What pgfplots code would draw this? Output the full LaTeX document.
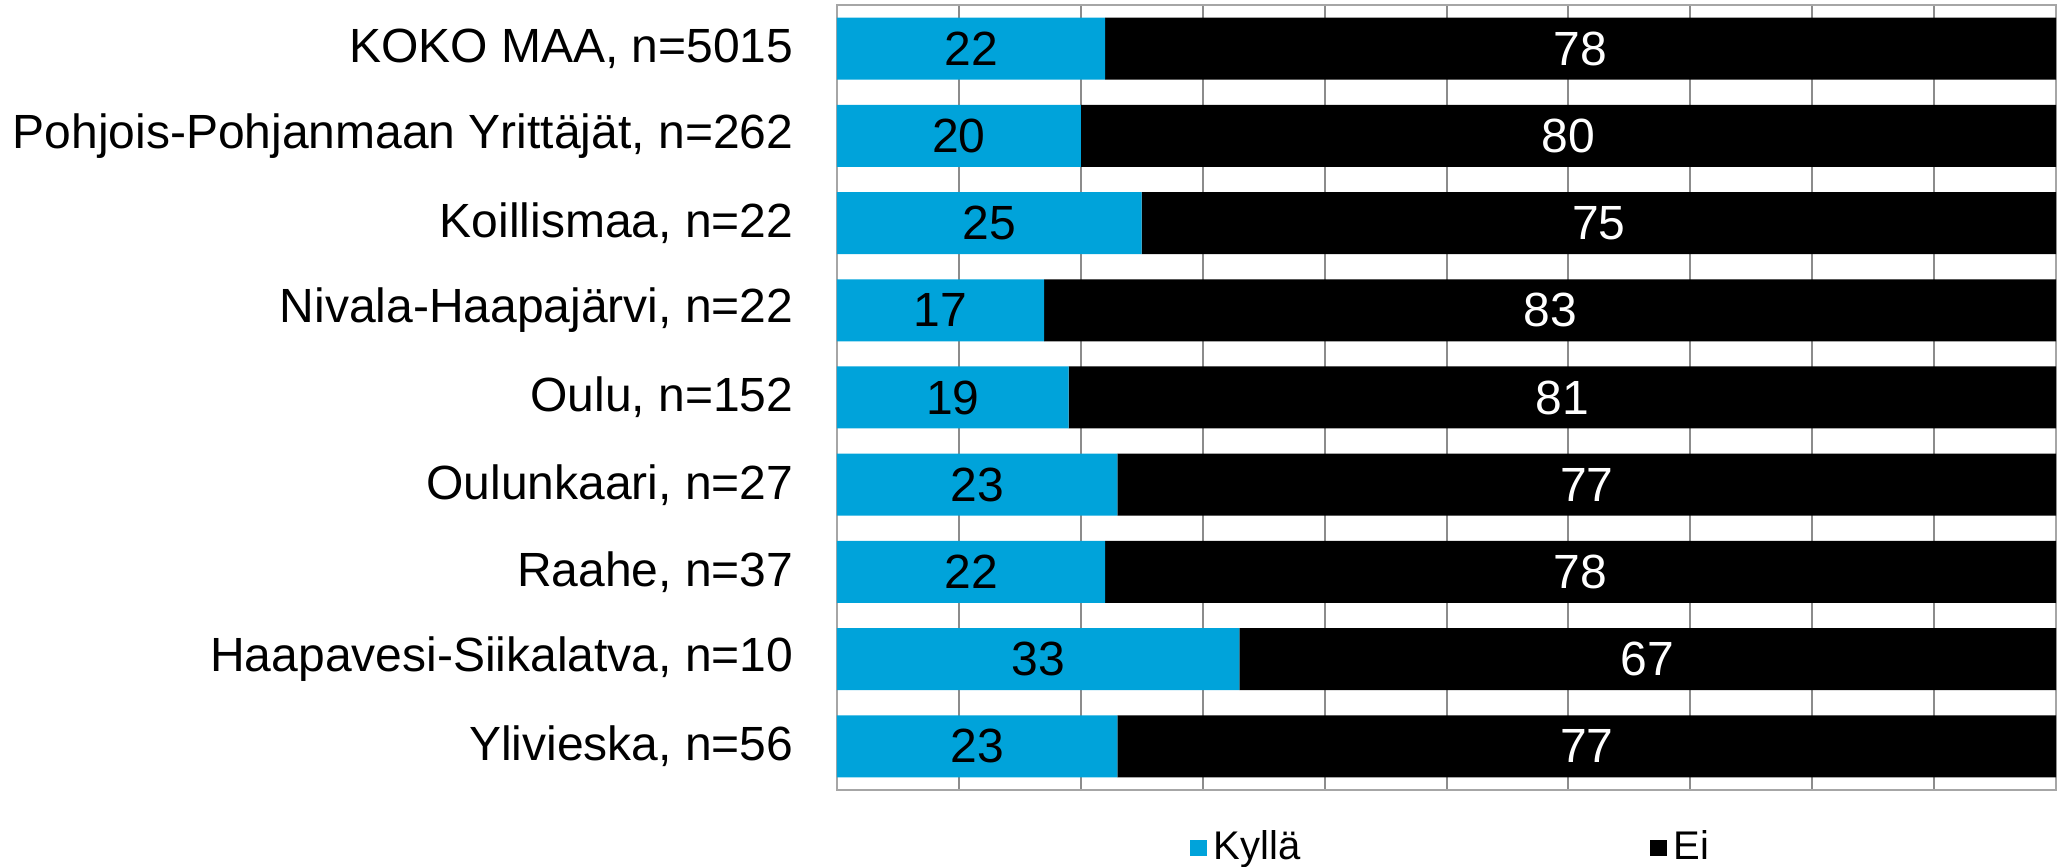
\documentclass[border=0pt]{standalone}
\usepackage{pgfplots}
\pgfplotsset{compat=1.18}
\usepackage{fontspec}
\setmainfont{Liberation Sans}
\definecolor{kblue}{HTML}{00A3DA}
\begin{document}
\begin{tikzpicture}
\begin{axis}[name=ax, scale only axis, width=365.7pt, height=235.5pt,
  xbar stacked, bar width=18.6pt,
  xmin=0, xmax=100, ymin=-0.5, ymax=8.5, y dir=reverse,
  xtick={0,10,...,100}, xticklabels={}, xticklabel style={overlay, inner sep=0pt},
  ytick={0,...,8},
  yticklabels={KOKO MAA{,} n=5015, Pohjois-Pohjanmaan Yrittäjät{,} n=262, Koillismaa{,} n=22, Nivala-Haapajärvi{,} n=22, Oulu{,} n=152, Oulunkaari{,} n=27, Raahe{,} n=37, Haapavesi-Siikalatva{,} n=10, Ylivieska{,} n=56},
  yticklabel style={font=\fontsize{14.4}{17}\selectfont, anchor=east, inner sep=0pt, xshift=-12.9pt},
  major tick length=0pt,
  xmajorgrids, major grid style={color=gray!90, line width=0.6pt},
  axis line style={color=gray!70, line width=0.6pt},
  legend columns=2,
  legend style={at={(0.5,0)}, anchor=center, yshift=-17.4pt, xshift=2pt, draw=none, fill=none, overlay,
    font=\fontsize{12}{14}\selectfont,
    /tikz/every even column/.append style={column sep=103pt}},
]
\addplot[fill=kblue, draw=none, legend image code/.code={\fill[kblue] (0pt,-2.5pt) rectangle (5pt,2.5pt);}] coordinates {(22,0) (20,1) (25,2) (17,3) (19,4) (23,5) (22,6) (33,7) (23,8)};
\addlegendentry{Kyllä}
\addplot[fill=black, draw=none, legend image code/.code={\fill[black] (0pt,-2.5pt) rectangle (5pt,2.5pt);}] coordinates {(78,0) (80,1) (75,2) (83,3) (81,4) (77,5) (78,6) (67,7) (77,8)};
\addlegendentry{Ei}
\end{axis}
\begin{axis}[at={(ax.south west)}, anchor=south west, scale only axis, width=365.7pt, height=235.5pt,
  xmin=0, xmax=100, ymin=-0.5, ymax=8.5, y dir=reverse, hide axis,
  nodes near coords={\pgfplotspointmeta}, point meta=explicit symbolic,
  every node near coord/.append style={anchor=center, inner sep=0pt, font=\fontsize{14.4}{17}\selectfont},
]
\addplot[only marks, mark=*, mark size=0pt, mark options={draw=none, fill=none}, every node near coord/.append style={text=black}] coordinates {(11,0)[22] (10,1)[20] (12.5,2)[25] (8.5,3)[17] (9.5,4)[19] (11.5,5)[23] (11,6)[22] (16.5,7)[33] (11.5,8)[23]};
\addplot[only marks, mark=*, mark size=0pt, mark options={draw=none, fill=none}, every node near coord/.append style={text=white}] coordinates {(61,0)[78] (60,1)[80] (62.5,2)[75] (58.5,3)[83] (59.5,4)[81] (61.5,5)[77] (61,6)[78] (66.5,7)[67] (61.5,8)[77]};
\end{axis}
\path ([shift={(-251.1pt,-23.1pt)}]ax.south west) rectangle ([shift={(0.9pt,1.5pt)}]ax.north east);
\end{tikzpicture}
\end{document}
